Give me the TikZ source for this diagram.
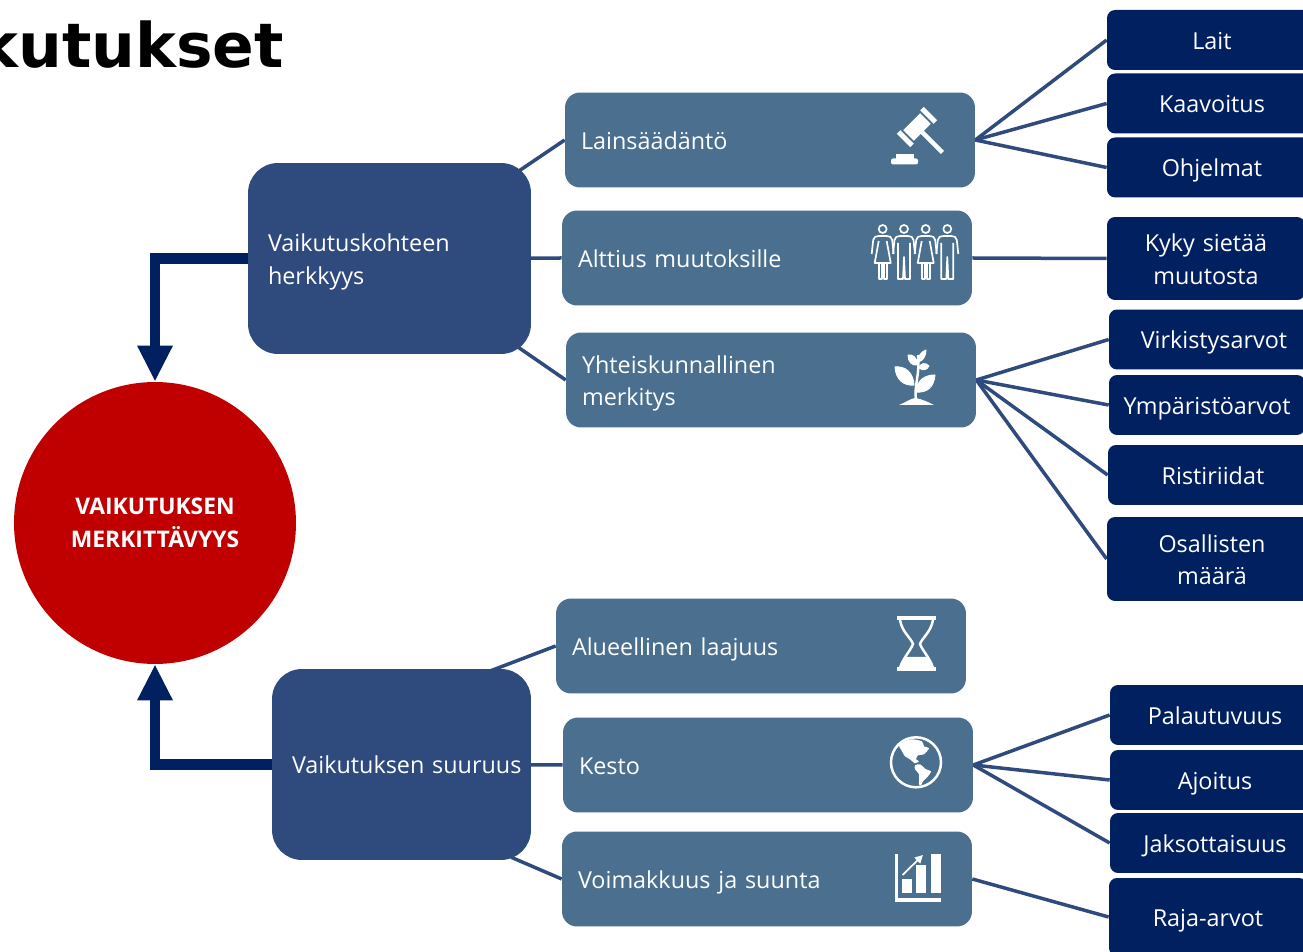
\documentclass[tikz,border=0pt]{standalone}
\usepackage{fontspec}
\setmainfont[WordSpace=0.8]{Open Sans}
\newfontfamily\titlefont{DejaVu Sans}
\usetikzlibrary{arrows.meta,backgrounds}
\definecolor{navy}{HTML}{002060}
\definecolor{slate}{HTML}{4A6F8F}
\definecolor{deepblue}{HTML}{2F4A7C}
\definecolor{crimson}{HTML}{C00000}
\begin{document}
\begin{tikzpicture}[x=0.02cm,y=-0.02cm]
	\tikzstyle{label}=[text=white,font=\fontsize{13.3}{18.4}\selectfont,execute at begin node={\rule{0pt}{16.3pt}},execute at end node={\rule[-5.5pt]{0pt}{5.5pt}}]
	\tikzstyle{big}=[label,rectangle,rounded corners=0.6cm,fill=deepblue,minimum height=3.82cm,inner xsep=0.4cm,align=left]
	\tikzstyle{mid}=[label,rectangle,rounded corners=0.3cm,fill=slate,minimum height=1.9cm,minimum width=8.2cm,inner xsep=0.32cm,text width=7.56cm,align=left]
	\tikzstyle{leaf}=[label,rectangle,rounded corners=0.16cm,fill=navy,minimum width=4.2cm,minimum height=1.2cm,inner xsep=0.1cm,text width=3.6cm,align=center]
	\tikzstyle{edge}=[draw=deepblue,line width=0.07cm]
	\tikzstyle{flow}=[draw=navy,line width=0.22cm,-{Triangle[length=0.72cm,width=0.66cm]}]
	\tikzstyle{icon}=[draw=white,fill=white,line width=0.02cm,line join=round]
	\tikzstyle{thin}=[draw=white,line width=0.034cm,line join=round]
	\useasboundingbox (0,0) rectangle (1303,952);

	\node [anchor=east,font=\titlefont\bfseries\fontsize{35}{40}\selectfont] (title) at (290,45) {kutukset};
	\node [circle,fill=crimson,text=white,minimum size=5.64cm,align=center,inner sep=0pt,font=\bfseries\fontsize{13}{18.6}\selectfont] (result) at (155,523) {VAIKUTUKSEN\\MERKITTÄVYYS};

	\node [big,minimum width=5.66cm,text width=4.86cm] (herkkyys) at (389.5,258.5) {Vaikutuskohteen\\herkkyys};
	\node [big,minimum width=5.18cm,text width=4.38cm] (suuruus) at (401.5,764.5) {\mbox{Vaikutuksen suuruus}};

	\node [mid] (laki) at (770,140) {Lainsäädäntö};
	\node [mid] (alttius) at (767,258) {Alttius muutoksille};
	\node [mid] (merkitys) at (771,380) {Yhteiskunnallinen\\merkitys};
	\node [mid] (laajuus) at (761,646) {Alueellinen laajuus};
	\node [mid] (kesto) at (768,765) {Kesto};
	\node [mid] (voima) at (767,879) {Voimakkuus ja suunta};

	\node [leaf] (lait) at (1212,40) {Lait};
	\node [leaf] (kaavoitus) at (1212,103.5) {Kaavoitus};
	\node [leaf] (ohjelmat) at (1212,167.5) {Ohjelmat};
	\node [leaf,minimum width=3.96cm,minimum height=1.66cm] (kyky) at (1206,258.5) {Kyky sietää\\muutosta};
	\node [leaf] (virkistys) at (1214,339.5) {Virkistysarvot};
	\node [leaf,minimum width=3.92cm] (ymparisto) at (1207,405) {Ympäristöarvot};
	\node [leaf] (ristiriidat) at (1213,475) {Ristiriidat};
	\node [leaf,minimum height=1.68cm] (osalliset) at (1212,559) {Osallisten\\määrä};
	\node [leaf] (palautuvuus) at (1215,715) {Palautuvuus};
	\node [leaf] (ajoitus) at (1215,780) {Ajoitus};
	\node [leaf] (jaksot) at (1215,843) {Jaksottaisuus};
	\node [leaf,minimum width=3.96cm,minimum height=1.56cm] (raja) at (1208,917) {Raja-arvot};

	\begin{scope}[on background layer]
		\path[edge] (herkkyys.center) edge (laki.west);
		\path[edge] (herkkyys.center) edge (alttius.west);
		\path[edge] (herkkyys.center) edge (merkitys.west);
		\path[edge] ([xshift=-0.86cm,yshift=-0.06cm]suuruus.north east) edge (laajuus.west);
		\path[edge] (suuruus.center) edge (kesto.west);
		\path[edge] ([xshift=-0.4cm,yshift=0.06cm]suuruus.south east) edge (voima.west);
		\foreach \t in {lait,kaavoitus,ohjelmat}
			\path[edge] (laki.east) edge (\t.west);
		\path[edge] (alttius.east) edge (kyky.west);
		\foreach \t in {virkistys,ymparisto,ristiriidat,osalliset}
			\path[edge] (merkitys.east) edge (\t.west);
		\foreach \t in {palautuvuus,ajoitus,jaksot}
			\path[edge] (kesto.east) edge (\t.west);
		\path[edge] (voima.east) edge (raja.west);
	\end{scope}

	\draw[flow] (herkkyys.west) -| (result.north);
	\draw[flow] (suuruus.west) -| (result.south);

	% gavel
	\begin{scope}[shift={(917,127)},rotate=-45]
		\fill[white] (-7.5,-12) rectangle (7.5,12);
		\fill[white] (-9.5,-19) rectangle (9.5,-14);
		\fill[white] (-9.5,14) rectangle (9.5,19);
		\fill[white] (7,-2.2) rectangle (36,2.2);
	\end{scope}
	\fill[white,rounded corners=0.04cm] (891,158.5) rectangle (918,164.5);
	\fill[white] (896,154) rectangle (914,159);

	% people
	\foreach \cx/\kind in {882.7/0,904/1,925.7/0,947.3/1} {
		\begin{scope}[shift={(\cx,229)}]
			\draw[thin] (0,0) circle (4);
			\draw[thin] (-11,25) -- (-9.5,11) .. controls (-9,8) and (-7,7) .. (-4,7) -- (4,7) .. controls (7,7) and (9,8) .. (9.5,11) -- (11,25);
			\ifnum\kind=1
				\draw[thin] (-6,14) -- (-6,50) -- (-1,50) -- (0,28) -- (1,50) -- (6,50) -- (6,14);
			\else
				\draw[thin] (-4,12) -- (-8,34) -- (8,34) -- (4,12);
				\draw[thin] (-4,34) -- (-4,50) -- (-1,50) -- (-1,34);
				\draw[thin] (1,34) -- (1,50) -- (4,50) -- (4,34);
			\fi
		\end{scope}
	}

	% plant
	\fill[white] (899,405) .. controls (906,402) and (910,399) .. (915,398) .. controls (922,399) and (928,402) .. (934,405) -- cycle;
	\draw[white,line width=0.05cm] (916,400) .. controls (914,385) and (920,375) .. (918,355);
	\fill[icon] (895,367) .. controls (905,366) and (913,372) .. (914,385) .. controls (904,386) and (896,380) .. (895,367) -- cycle;
	\fill[icon] (935,375) .. controls (925,375) and (917,380) .. (916,392) .. controls (927,393) and (934,387) .. (935,375) -- cycle;
	\fill[icon] (908,355) .. controls (913,354) and (917,358) .. (918,365) .. controls (912,366) and (908,362) .. (908,355) -- cycle;
	\fill[icon] (926,350) .. controls (921,352) and (918,356) .. (918,362) .. controls (923,361) and (926,356) .. (926,350) -- cycle;
	\fill[icon] (929,366) .. controls (925,362) and (921,363) .. (919,368) .. controls (923,371) and (927,370) .. (929,366) -- cycle;

	% hourglass
	\fill[white] (897,616.5) rectangle (936,620.5);
	\fill[white] (897,667.5) rectangle (936,671);
	\draw[white,line width=0.05cm] (900,620) .. controls (902,632) and (911,638) .. (913,644) .. controls (911,650) and (903,658) .. (900,668);
	\draw[white,line width=0.05cm] (933,620) .. controls (931,632) and (922,638) .. (920,644) .. controls (922,650) and (930,658) .. (933,668);
	\fill[white] (905,657) -- (928,657) -- (933,668) -- (900,668) -- cycle;

	% globe
	\begin{scope}[shift={(916,762.3)}]
		\draw[white,line width=0.05cm] (0,0) circle (25);
		\fill[white] plot[smooth cycle,tension=0.4] coordinates {(-17,-18) (-5,-23) (6,-21) (8,-16) (13,-14) (8,-8) (2,-7) (0,-3) (3,-1) (-1,1) (-6,-3) (-11,-6) (-14,-11)};
		\fill[white] plot[smooth cycle,tension=0.4] coordinates {(-1,3) (4,2) (10,7) (15,9) (12,14) (7,19) (5,23) (3,22) (3,12) (-1,7)};
	\end{scope}

	% chart
	\fill[white] (894.5,854) rectangle (898,902);
	\fill[white] (894.5,898.5) rectangle (941,902);
	\fill[white] (902,879) rectangle (912,893);
	\fill[white] (916,865) rectangle (926,893);
	\fill[white] (931,854) rectangle (941,893);
	\draw[white,line width=0.035cm,-{Triangle[length=0.16cm,width=0.16cm]}] (902.5,875) -- (923,855);
\end{tikzpicture}
\end{document}
